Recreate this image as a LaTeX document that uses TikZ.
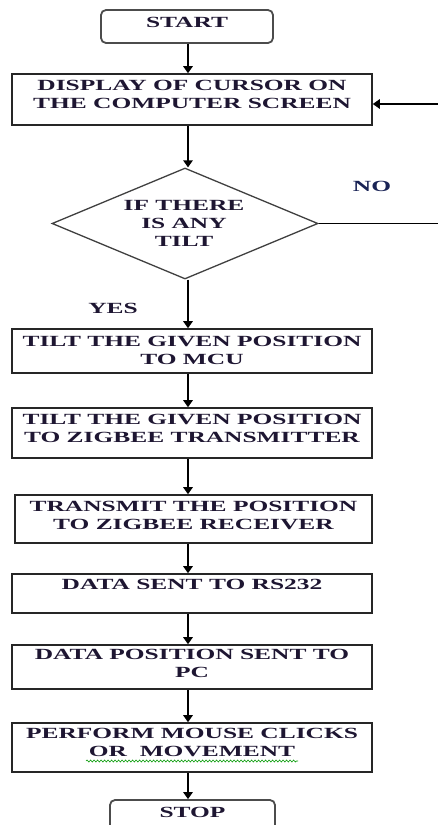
\documentclass[tikz,border=0pt]{standalone}
\usepackage{fontspec}
\setmainfont{Liberation Serif}[FakeStretch=1.64]
\usetikzlibrary{shapes.geometric,arrows.meta,decorations.pathmorphing}
\definecolor{txtc}{RGB}{30,22,50}
\definecolor{noc}{RGB}{25,35,85}
\begin{document}
\begin{tikzpicture}[x=1pt,y=-1pt,
  box/.style={draw=black!85, line width=1.6pt, minimum width=360pt, minimum height=#1, inner sep=0pt},
  term/.style={draw=black!70, line width=1.8pt, rounded corners=5pt, inner sep=0pt},
  lbl/.style={text=txtc, font=\fontsize{15.5}{17.5}\selectfont\bfseries, align=center, inner sep=0pt},
  conn/.style={draw=black, line width=1.4pt},
  arr/.style={conn, -{Triangle[width=9.5pt,length=7pt]}}
]
\useasboundingbox (0,0) rectangle (437,825);
\fill[white] (0,0) rectangle (437,825);
\coordinate (col) at (188,0);
\coordinate (loopR) at (450,0);

% shapes
\node[term, minimum width=172pt, minimum height=33pt] (start) at (187,26.5) {};
\node[box=51pt] (disp) at (192,99.5) {};
\node[draw=black!75, line width=1.3pt, shape=diamond, minimum width=266pt, minimum height=111pt, inner sep=0pt] (dia) at (185,223.5) {};
\node[box=44pt] (b1) at (192,351) {};
\node[box=50pt] (b2) at (192,433) {};
\node[box=48pt, minimum width=357pt] (b3) at (193.5,519) {};
\node[box=39pt] (b4) at (192,593.5) {};
\node[box=44pt] (b5) at (192,667) {};
\node[box=49pt] (b6) at (192,747.5) {};
\node[term, minimum width=165pt, minimum height=40pt] (stop) at (192.5,820) {};

% texts
\node[lbl, anchor=north] (tstart) at ([yshift=-8pt]start.north) {START};
\node[lbl, anchor=north] (tdisp) at ([yshift=-7pt]disp.north) {DISPLAY OF CURSOR ON\\THE COMPUTER SCREEN};
\node[lbl, anchor=north, font=\fontsize{15.5}{18}\selectfont\bfseries] (tdia) at (184,200) {IF THERE\\IS ANY\\TILT};
\node[lbl, anchor=north] (t1) at ([yshift=-8pt]b1.north) {TILT THE GIVEN POSITION\\TO MCU};
\node[lbl, anchor=north] (t2) at ([yshift=-7pt]b2.north) {TILT THE GIVEN POSITION\\TO ZIGBEE TRANSMITTER};
\node[lbl, anchor=north] (t3) at ([yshift=-7pt]b3.north) {TRANSMIT THE POSITION\\TO ZIGBEE RECEIVER};
\node[lbl, anchor=north] (t4) at ([yshift=-6pt]b4.north) {DATA SENT TO RS232};
\node[lbl, anchor=north] (t5) at ([yshift=-5pt]b5.north) {DATA POSITION SENT TO\\PC};
\node[lbl, anchor=north] (t6) at ([yshift=-6pt]b6.north) {PERFORM MOUSE CLICKS\\OR\ \ MOVEMENT};
\node[lbl, anchor=north] (tstop) at ([yshift=-8pt]stop.north) {STOP};
\node[lbl, text=noc] (no) at (372,186) {NO};
\node[lbl] (yes) at (113,308) {YES};

% spell-check squiggle
\draw[green!60!black, line width=0.6pt, decorate, decoration={snake, amplitude=1pt, segment length=3.5pt}] (86,761) -- (298,761);

% connectors
\draw[arr] (start.south -| col) -- (disp.north -| col);
\draw[arr] (disp.south -| col) -- (dia.north -| col);
\draw[arr] (dia.south -| col) -- (b1.north -| col);
\draw[arr] (b1.south -| col) -- (b2.north -| col);
\draw[arr] (b2.south -| col) -- (b3.north -| col);
\draw[arr] (b3.south -| col) -- (b4.north -| col);
\draw[arr] (b4.south -| col) -- (b5.north -| col);
\draw[arr] (b5.south -| col) -- (b6.north -| col);
\draw[arr] (b6.south -| col) -- (stop.north -| col);
\draw[arr] (dia.east) -- (dia.east -| loopR) |- ([yshift=-4.5pt]disp.east);
\end{tikzpicture}
\end{document}
